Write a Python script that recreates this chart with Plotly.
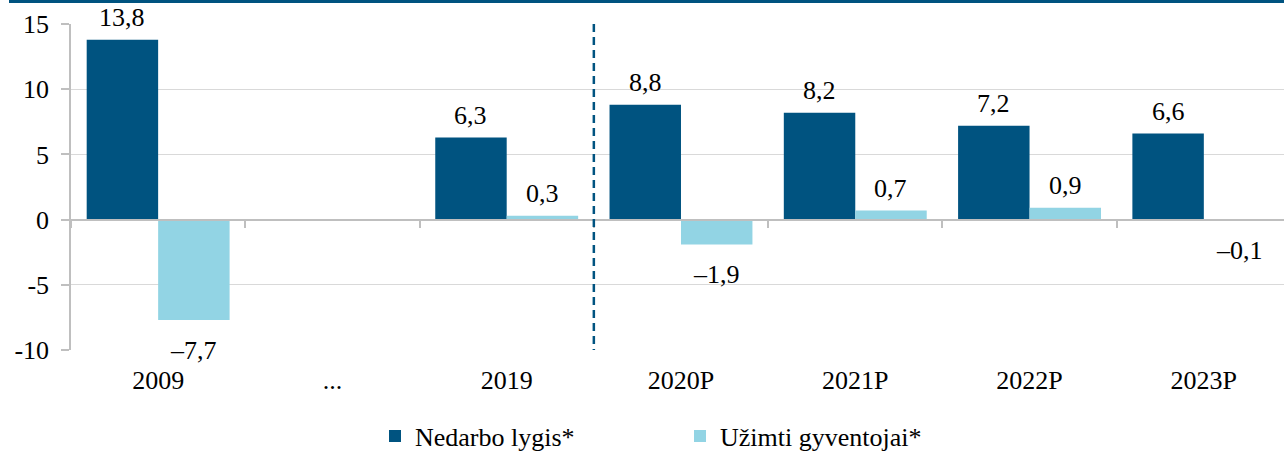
import plotly.graph_objects as go

categories = ["2009", "...", "2019", "2020P", "2021P", "2022P", "2023P"]
nedarbo = [13.8, None, 6.3, 8.8, 8.2, 7.2, 6.6]
uzimti = [-7.7, None, 0.3, -1.9, 0.7, 0.9, -0.1]
series_names = ["Nedarbo lygis*", "Užimti gyventojai*"]
y_tickvals = [-10, -5, 0, 5, 10, 15]
y_ticktext = ["-10", "-5", "0", "5", "10", "15"]

DARK = "#005380"
LIGHT = "#92D4E4"
FONT = "Liberation Serif, Times New Roman, serif"
FS = 26

W, H = 1284, 452
ML, MR, MT, MB = 71, 0, 24, 102
XR = [-0.5, 6.46]
BARGAP = 0.18

fig = go.Figure()
fig.add_trace(go.Bar(x=categories, y=nedarbo, name=series_names[0], marker_color=DARK,
                     marker_line_width=0))
fig.add_trace(go.Bar(x=categories, y=uzimti, name=series_names[1], marker_color=LIGHT,
                     marker_line_width=0))
# helper trace for the axis drawn at zero
fig.add_trace(go.Scatter(x=categories, y=[0] * len(categories), xaxis="x2", mode="markers",
                         marker=dict(opacity=0), showlegend=False, hoverinfo="skip"))

def fmt(v):
    s = f"{abs(v):.1f}".replace(".", ",")
    return ("\u2013" + s) if v < 0 else s

px_per_cat = (W - ML - MR) / (XR[1] - XR[0])
half = px_per_cat * (1 - BARGAP) / 4
for vals, sh in ((nedarbo, -half), (uzimti, half)):
    for i, v in enumerate(vals):
        if v is None:
            continue
        fig.add_annotation(x=i, y=v, xref="x", yref="y", text=fmt(v), showarrow=False,
                           xshift=sh, yshift=(22 if v >= 0 else -30), yanchor="middle",
                           font=dict(family=FONT, size=FS, color="black"))

# dashed separator between actual and forecast
fig.add_shape(type="line", xref="x", yref="y", x0=2.5, x1=2.5, y0=15, y1=-10,
              line=dict(color=DARK, width=2.5, dash="8px,5px"))
# top border band
fig.add_shape(type="rect", xref="paper", yref="paper", xsizemode="pixel", ysizemode="pixel",
              xanchor=0, yanchor=1, x0=-62, x1=W, y0=MT - 3, y1=MT + 2,
              fillcolor=DARK, line_width=0, layer="above")

fig.update_layout(
    width=W, height=H,
    margin=dict(l=ML, r=MR, t=MT, b=MB),
    paper_bgcolor="white", plot_bgcolor="white",
    barmode="group", bargap=BARGAP, bargroupgap=0,
    font=dict(family=FONT, size=FS, color="black"),
    xaxis=dict(type="category", range=XR, showgrid=False, showline=False, ticks="",
               tickfont=dict(family=FONT, size=FS, color="black"), ticklabelstandoff=12,
               fixedrange=True),
    xaxis2=dict(type="category", matches="x", overlaying="x", anchor="free", position=0.4,
                showline=True, linecolor="#BFBFBF", linewidth=1.5, ticks="outside",
                tickson="boundaries", ticklen=8, tickcolor="#BFBFBF", tickwidth=1.5,
                showticklabels=False, showgrid=False),
    yaxis=dict(range=[-10, 15], tickvals=y_tickvals, ticktext=y_ticktext,
               showgrid=True, gridcolor="#D9D9D9", gridwidth=1.3,
               zeroline=True, zerolinecolor="#BFBFBF", zerolinewidth=1.5,
               showline=True, linecolor="#BFBFBF", linewidth=1.5,
               ticks="outside", ticklen=8, tickcolor="#BFBFBF", tickwidth=1.5,
               ticklabelstandoff=7,
               tickfont=dict(family=FONT, size=FS, color="black")),
    showlegend=True,
    legend=dict(orientation="h", xref="container", yref="container", x=375 / W,
                xanchor="left", y=(H - 436) / H, yanchor="middle",
                font=dict(family=FONT, size=FS, color="black"),
                entrywidth=260, itemwidth=30, bgcolor="rgba(0,0,0,0)"),
)

fig.write_html("out.html", config={"displayModeBar": False},
               post_script="document.body.style.margin='0';")
